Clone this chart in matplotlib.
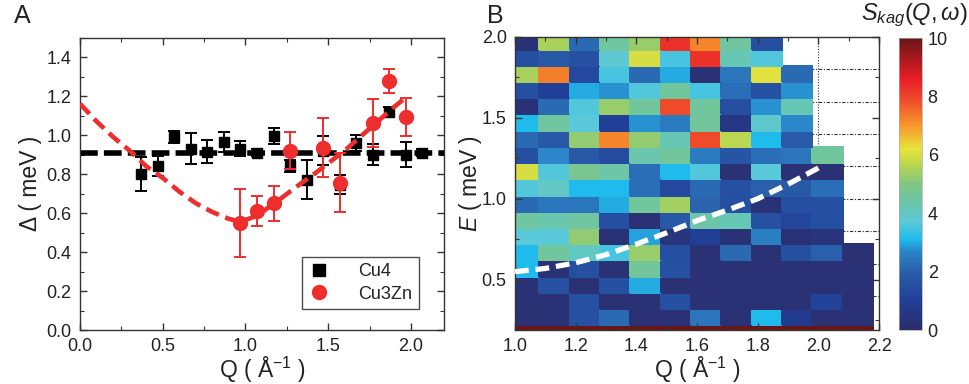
import numpy as np
import matplotlib
matplotlib.use("Agg")
import matplotlib.pyplot as plt
from matplotlib.colors import LinearSegmentedColormap
from matplotlib.lines import Line2D
from matplotlib.ticker import MultipleLocator

plt.rcParams['font.family'] = ['Liberation Sans', 'DejaVu Sans']
plt.rcParams['mathtext.fontset'] = 'custom'
plt.rcParams['mathtext.rm'] = 'Liberation Sans'
plt.rcParams['mathtext.it'] = 'Liberation Sans:italic'
plt.rcParams['mathtext.bf'] = 'Liberation Sans:bold'

# ---------------- Panel A: gap vs Q ----------------
q_cu4 = [0.37, 0.47, 0.57, 0.67, 0.77, 0.87, 0.97, 1.07, 1.17, 1.27, 1.37, 1.47,
         1.57, 1.67, 1.77, 1.87, 1.97, 2.07]
gap_cu4 = [0.80, 0.84, 0.99, 0.93, 0.915, 0.965, 0.93, 0.91, 0.995, 0.84, 0.77, 0.92,
           0.745, 0.96, 0.90, 1.12, 0.90, 0.91]
err_cu4 = [0.085, 0.05, 0.03, 0.08, 0.06, 0.05, 0.04, 0.02, 0.04, 0.03, 0.10, 0.075,
           0.05, 0.04, 0.055, 0.025, 0.066, 0.02]

q_cu3zn = [0.97, 1.07, 1.17, 1.27, 1.47, 1.57, 1.77, 1.87, 1.97]
gap_cu3zn = [0.547, 0.61, 0.65, 0.92, 0.935, 0.755, 1.062, 1.277, 1.093]
err_cu3zn = [0.175, 0.075, 0.09, 0.095, 0.15, 0.152, 0.125, 0.063, 0.097]

gap_flat = 0.91

q_disp_a = [0.0, 0.1, 0.2, 0.3, 0.4, 0.5, 0.6, 0.7, 0.8, 0.9, 0.97, 1.05, 1.1, 1.2,
            1.3, 1.4, 1.5, 1.6, 1.7, 1.8, 1.9, 1.98]
gap_disp_a = [1.16, 1.07, 0.99, 0.92, 0.84, 0.78, 0.71, 0.65, 0.605, 0.57, 0.555, 0.58,
              0.605, 0.665, 0.73, 0.79, 0.855, 0.92, 0.995, 1.07, 1.145, 1.2]

# ---------------- Panel B: S_kag(Q, w) map ----------------
q_edges = [0.98, 1.08, 1.18, 1.28, 1.38, 1.48, 1.58, 1.68, 1.78, 1.88, 1.98, 2.08, 2.18]
e_edges = [0.12, 0.22, 0.32, 0.42, 0.52, 0.62, 0.72, 0.82, 0.92, 1.02, 1.12, 1.22,
           1.32, 1.42, 1.52, 1.62, 1.72, 1.82, 1.92, 2.02]
nan = np.nan
# rows listed from highest energy (1.97) down to the elastic row (0.17)
s_kag = [
    [0.3, 5.5, 2.2, 4.5, 5.3, 8.3, 7.2, 4.5, 1.5, nan, nan, nan],
    [1.5, 1.8, 1.6, 3.8, 6.0, 3.5, 8.3, 4.2, 3.6, nan, nan, nan],
    [5.5, 7.3, 1.3, 3.5, 2.2, 3.0, 0.2, 2.4, 6.1, 2.2, nan, nan],
    [1.5, 1.0, 3.0, 2.8, 3.6, 4.6, 3.5, 2.3, 1.6, 2.8, nan, nan],
    [0.3, 2.2, 3.6, 5.3, 4.6, 7.9, 4.6, 1.5, 2.8, 4.2, nan, nan],
    [3.1, 4.5, 3.7, 1.0, 2.8, 2.5, 4.6, 0.6, 3.9, 2.7, nan, nan],
    [2.2, 1.8, 5.2, 7.2, 5.2, 4.2, 7.9, 5.7, 3.1, 1.9, nan, nan],
    [1.5, 2.7, 1.8, 1.4, 4.3, 4.6, 2.5, 1.7, 2.3, 2.4, 4.6, nan],
    [6.0, 3.6, 4.8, 4.4, 2.3, 3.1, 3.6, 0.2, 3.7, 0.2, 0.2, nan],
    [3.6, 4.0, 3.1, 3.1, 2.3, 1.3, 2.2, 1.6, 2.0, 1.8, 2.3, nan],
    [2.2, 2.4, 2.4, 3.0, 4.6, 5.4, 2.1, 1.5, 0.3, 1.5, 1.5, nan],
    [4.5, 4.3, 4.5, 1.5, 0.2, 1.8, 4.4, 4.2, 1.6, 1.2, 1.5, nan],
    [3.7, 3.7, 5.2, 0.2, 2.9, 0.4, 1.0, 0.3, 2.6, 0.3, 0.4, nan],
    [3.1, 4.6, 4.0, 3.5, 5.3, 1.5, 0.2, 2.2, 0.2, 1.5, 2.0, 0.2],
    [3.1, 0.2, 1.5, 0.3, 4.6, 1.6, 0.2, 0.2, 0.2, 0.2, 0.2, 0.2],
    [0.2, 1.6, 0.2, 1.5, 3.0, 0.2, 0.2, 0.2, 0.2, 0.2, 0.2, 0.2],
    [0.2, 0.2, 1.6, 0.2, 0.2, 1.5, 0.2, 0.2, 0.2, 0.2, 1.1, 0.2],
    [0.2, 0.2, 1.6, 2.2, 0.2, 0.2, 2.4, 0.2, 3.1, 0.8, 0.2, 0.2],
    [10, 10, 10, 10, 10, 10, 10, 10, 10, 10, 10, 10],
]

q_disp_b = [1.0, 1.1, 1.2, 1.3, 1.4, 1.5, 1.6, 1.7, 1.8, 1.9, 2.0]
e_disp_b = [0.55, 0.57, 0.605, 0.655, 0.72, 0.79, 0.865, 0.93, 1.0, 1.09, 1.19]

cbar_ticks = [0, 2, 4, 6, 8, 10]

rainbow = LinearSegmentedColormap.from_list('rainbow_origin', [
    (0.00, '#2c2d6b'), (0.10, '#213f97'), (0.20, '#2a5fab'), (0.27, '#2b86c9'),
    (0.31, '#1fbbec'), (0.37, '#5bc9d9'), (0.44, '#6cc6a6'), (0.50, '#80c683'),
    (0.56, '#b3d454'), (0.62, '#e8e33b'), (0.70, '#f7982a'), (0.78, '#f0532c'),
    (0.86, '#e91e25'), (1.00, '#6a1618')])

TXT = '#222222'
fig = plt.figure(figsize=(9.7, 3.84), dpi=100)

# ----- panel A -----
axA = fig.add_axes([0.0825, 0.1406, 0.3752, 0.7617])
axA.axhline(gap_flat, color='black', lw=4.0, dashes=(3.2, 1.1), zorder=2)
axA.plot(q_disp_a, gap_disp_a, color='#ee2d2d', lw=3.3, dashes=(3.0, 1.5), zorder=5)
axA.errorbar(q_cu4, gap_cu4, yerr=err_cu4, fmt='s', color='black', ms=7.5,
             elinewidth=1.4, capsize=4.5, capthick=1.4, zorder=3)
axA.errorbar(q_cu3zn, gap_cu3zn, yerr=err_cu3zn, fmt='o', color='#ee2d2d', ms=10,
             elinewidth=1.4, capsize=4.5, capthick=1.4, zorder=4)
axA.set_xlim(0, 2.2)
axA.set_ylim(0, 1.5)
axA.xaxis.set_major_locator(MultipleLocator(0.5))
axA.xaxis.set_minor_locator(MultipleLocator(0.25))
axA.yaxis.set_minor_locator(MultipleLocator(0.1))
axA.set_yticks([0.0, 0.2, 0.4, 0.6, 0.8, 1.0, 1.2, 1.4])
axA.set_xlabel('Q ( Å$^{-1}$ )', fontsize=16.5, color=TXT)
axA.set_ylabel('Δ ( meV )', fontsize=16.5, color=TXT)
axA.xaxis.set_label_coords(0.5, -0.085)
axA.yaxis.set_label_coords(-0.104, 0.5)
leg_handles = [Line2D([], [], ls='none', marker='s', color='black', ms=8),
               Line2D([], [], ls='none', marker='o', color='#ee2d2d', ms=10)]
leg = axA.legend(leg_handles, ['Cu4', 'Cu3Zn'], loc='lower right',
                 bbox_to_anchor=(0.931, 0.072), borderaxespad=0, fontsize=13,
                 frameon=True, fancybox=False, edgecolor='#222222',
                 handletextpad=1.6, borderpad=0.35, labelspacing=0.3,
                 handlelength=1.2)
leg.get_frame().set_linewidth(1.0)
for t in leg.get_texts():
    t.set_color(TXT)

# ----- panel B -----
axB = fig.add_axes([0.531, 0.1406, 0.3753, 0.7638])
for e in [0.4, 0.6, 0.8, 1.0, 1.2, 1.4, 1.6, 1.8]:
    axB.axhline(e, color='#333333', lw=0.8, ls=(0, (3, 1.5, 1, 1.5)), zorder=0.5)
axB.axvline(2.0, color='#333333', lw=0.8, ls=(0, (1, 1.5)), zorder=0.5)
mesh = axB.pcolormesh(q_edges, e_edges, np.array(s_kag)[::-1], cmap=rainbow,
                      vmin=0, vmax=10, edgecolors='face', linewidth=0.3, zorder=1)
axB.plot(q_disp_b, e_disp_b, color='white', lw=3.8, dashes=(2.6, 1.3), zorder=3)
axB.set_xlim(1.0, 2.2)
axB.set_ylim(0.19, 2.0)
axB.xaxis.set_major_locator(MultipleLocator(0.2))
axB.xaxis.set_minor_locator(MultipleLocator(0.1))
axB.yaxis.set_major_locator(MultipleLocator(0.5))
axB.yaxis.set_minor_locator(MultipleLocator(0.25))
axB.set_xlabel('Q ( Å$^{-1}$ )', fontsize=16.5, color=TXT)
axB.set_ylabel('$E$ ( meV )', fontsize=16.5, color=TXT)
axB.xaxis.set_label_coords(0.5, -0.085)
axB.yaxis.set_label_coords(-0.085, 0.5)

for ax in (axA, axB):
    ax.tick_params(which='both', direction='in', top=True, right=True,
                   labelsize=13, labelcolor=TXT, color='#333333')
    ax.tick_params(which='major', length=5, width=1.0, pad=6)
    ax.tick_params(which='minor', length=3, width=0.8)
    for s in ax.spines.values():
        s.set_linewidth(1.0)
        s.set_color('#333333')

# ----- colorbar -----
cax = fig.add_axes([0.927, 0.1406, 0.0237, 0.76])
cb = fig.colorbar(mesh, cax=cax, ticks=cbar_ticks)
cb.outline.set_linewidth(0.5)
cb.outline.set_edgecolor('#aaaaaa')
cax.tick_params(length=0, labelsize=13, labelcolor=TXT, pad=4)
fig.text(0.998, 0.925, r'$S_{kag}(Q,\omega)$', fontsize=17, ha='right',
         va='bottom', color=TXT)

fig.text(0.014, 0.99, 'A', fontsize=18, va='top', ha='left', color=TXT)
fig.text(0.502, 0.99, 'B', fontsize=18, va='top', ha='left', color=TXT)

fig.savefig('out.png', dpi=100)
